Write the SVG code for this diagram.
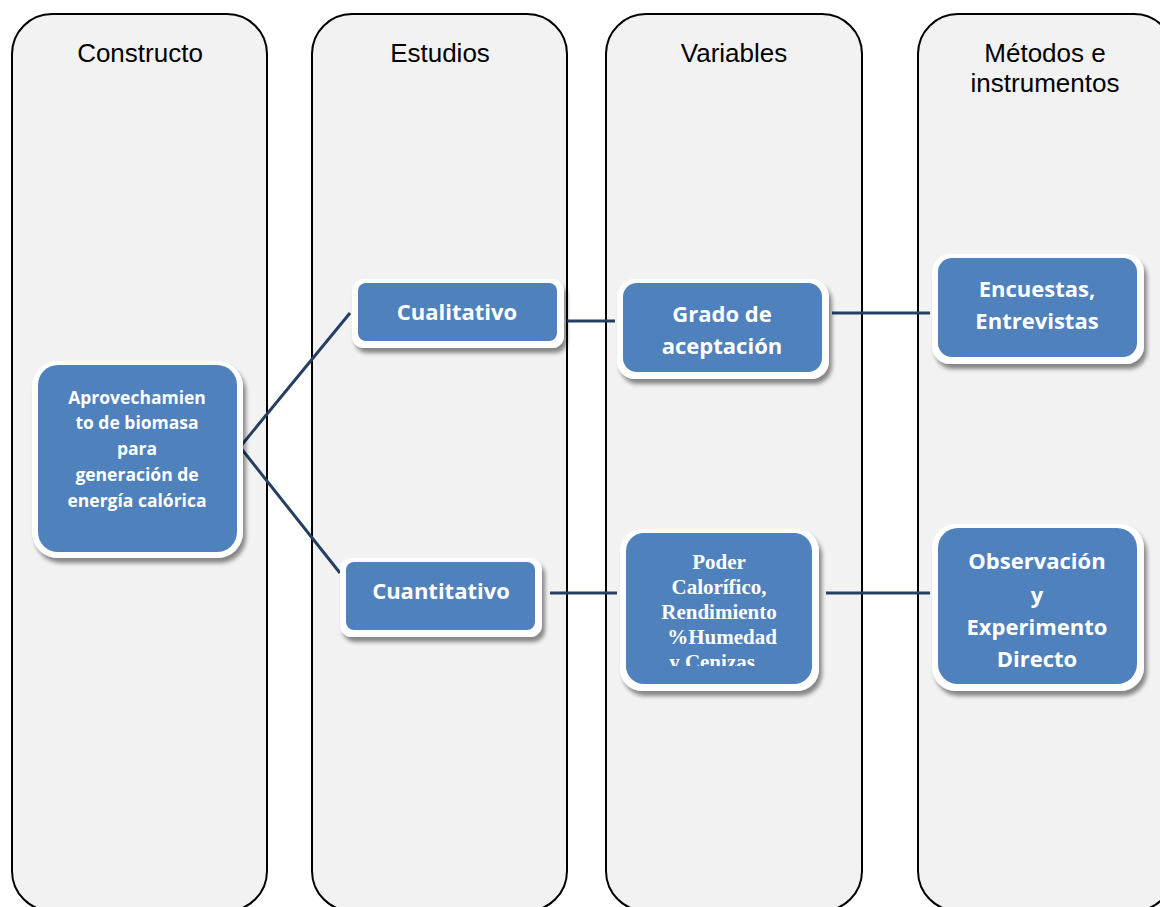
<svg xmlns="http://www.w3.org/2000/svg" width="1160" height="907" viewBox="0 0 1160 907">
<defs>
<style>
.panel{fill:#f2f2f2;stroke:#000;stroke-width:2}
.ptitle{font-family:"Liberation Sans",Arial,sans-serif;font-size:26px;fill:#000;text-anchor:middle}
.rim{fill:#ffffff;filter:url(#sh)}
.box{fill:#4f81bd}
.t{font-family:"Open Sans","Liberation Sans",sans-serif;font-weight:bold;fill:#fff;text-anchor:middle}
.ts{font-family:"Liberation Serif","Times New Roman",serif;font-weight:bold;fill:#fff;text-anchor:middle;font-size:21px}
.conn{stroke:#243f60;stroke-width:3;fill:none}
</style>
<filter id="sh" x="-10%" y="-10%" width="130%" height="140%">
<feGaussianBlur in="SourceAlpha" stdDeviation="2"/>
<feOffset dx="3" dy="5" result="b"/>
<feComponentTransfer in="b" result="c"><feFuncA type="linear" slope="0.45"/></feComponentTransfer>
<feMerge><feMergeNode in="c"/><feMergeNode in="SourceGraphic"/></feMerge>
</filter>
<clipPath id="clipPoder"><rect x="626" y="533" width="186" height="133"/></clipPath>
</defs>
<rect width="1160" height="907" fill="#fff"/>
<g id="panels">
<g id="panel-constructo"><rect class="panel" x="12" y="14" width="255" height="897" rx="40"/><text class="ptitle" x="140" y="62">Constructo</text></g>
<g id="panel-estudios"><rect class="panel" x="312" y="14" width="255" height="897" rx="40"/><text class="ptitle" x="440" y="62">Estudios</text></g>
<g id="panel-variables"><rect class="panel" x="606" y="14" width="256" height="897" rx="40"/><text class="ptitle" x="734" y="62">Variables</text></g>
<g id="panel-metodos"><rect class="panel" x="918" y="14" width="256" height="897" rx="40"/><text class="ptitle" x="1045" y="62">Métodos e</text><text class="ptitle" x="1045" y="92">instrumentos</text></g>
</g>
<g id="connectors">
<polyline class="conn" points="350,313 240,447 340,573"/>
<line class="conn" x1="567" y1="321" x2="615" y2="321"/>
<line class="conn" x1="550" y1="593" x2="617" y2="593"/>
<line class="conn" x1="832" y1="313" x2="930" y2="313"/>
<line class="conn" x1="826" y1="593" x2="930" y2="593"/>
</g>
<g id="node-aprovechamiento">
<rect class="rim" x="32" y="361" width="211" height="197" rx="26"/>
<rect class="box" x="38" y="365" width="199" height="187" rx="20"/>
<text class="t" font-size="17.5" x="137" y="404">Aprovechamien</text>
<text class="t" font-size="17.5" x="137" y="429">to de biomasa</text>
<text class="t" font-size="17.5" x="137" y="455">para</text>
<text class="t" font-size="17.5" x="137" y="481">generación de</text>
<text class="t" font-size="17.5" x="137" y="507">energía calórica</text>
</g>
<g id="node-cualitativo">
<rect class="rim" x="352" y="279" width="212" height="69" rx="12"/>
<rect class="box" x="358" y="283" width="199" height="58" rx="8"/>
<text class="t" font-size="22" x="457" y="320">Cualitativo</text>
</g>
<g id="node-cuantitativo">
<rect class="rim" x="340" y="558" width="202" height="79" rx="12"/>
<rect class="box" x="346" y="562" width="189" height="68" rx="8"/>
<text class="t" font-size="22" x="441" y="599">Cuantitativo</text>
</g>
<g id="node-grado">
<rect class="rim" x="617" y="279" width="212" height="100" rx="18"/>
<rect class="box" x="623" y="283" width="199" height="89" rx="14"/>
<text class="t" font-size="22" x="722" y="322">Grado de</text>
<text class="t" font-size="22" x="722" y="354">aceptación</text>
</g>
<g id="node-poder">
<rect class="rim" x="620" y="529" width="199" height="162" rx="22"/>
<rect class="box" x="626" y="533" width="186" height="151" rx="18"/>
<g clip-path="url(#clipPoder)">
<text class="ts" x="719" y="569">Poder</text>
<text class="ts" x="719" y="594">Calorífico,</text>
<text class="ts" x="719" y="619">Rendimiento</text>
<text class="ts" x="722" y="644">%Humedad</text>
<text class="ts" x="712" y="669">y Cenizas</text>
</g>
</g>
<g id="node-encuestas">
<rect class="rim" x="932" y="254" width="212" height="110" rx="18"/>
<rect class="box" x="938" y="258" width="199" height="99" rx="14"/>
<text class="t" font-size="22" x="1037" y="297">Encuestas,</text>
<text class="t" font-size="22" x="1037" y="329">Entrevistas</text>
</g>
<g id="node-observacion">
<rect class="rim" x="932" y="524" width="212" height="167" rx="24"/>
<rect class="box" x="938" y="528" width="199" height="156" rx="20"/>
<text class="t" font-size="22" x="1037" y="569">Observación</text>
<text class="t" font-size="22" x="1037" y="603">y</text>
<text class="t" font-size="22" x="1037" y="635">Experimento</text>
<text class="t" font-size="22" x="1037" y="667">Directo</text>
</g>
</svg>
